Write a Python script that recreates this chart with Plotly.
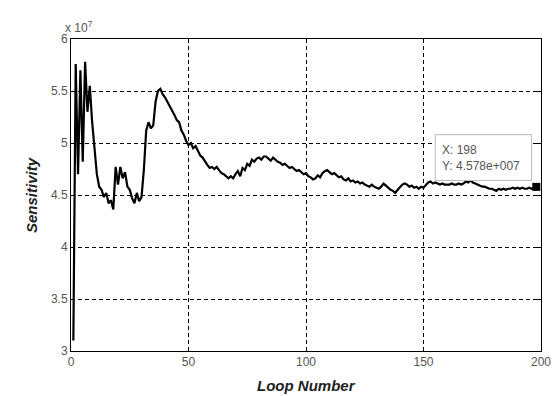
import plotly.graph_objects as go

# Loop numbers and sensitivity (units of 1e7)
loop_number = list(range(1, 199))
sensitivity_e7 = [
    3.10, 5.76, 4.70, 5.70, 4.82, 5.78, 5.30, 5.55, 5.20, 4.95,
    4.70, 4.58, 4.55, 4.48, 4.52, 4.42, 4.45, 4.36, 4.77, 4.60,
    4.77, 4.66, 4.72, 4.58, 4.55, 4.47, 4.42, 4.52, 4.44, 4.48,
    4.74, 5.12, 5.20, 5.14, 5.17, 5.40, 5.50, 5.52, 5.47, 5.44,
    5.40, 5.36, 5.31, 5.27, 5.22, 5.20, 5.12, 5.08, 5.02, 4.98,
    5.00, 4.95, 4.97, 4.92, 4.88, 4.86, 4.82, 4.79, 4.76, 4.77,
    4.75, 4.77, 4.74, 4.71, 4.70, 4.68, 4.66, 4.68, 4.66, 4.70,
    4.73, 4.68, 4.76, 4.74, 4.80, 4.78, 4.84, 4.82, 4.85, 4.86,
    4.84, 4.87, 4.87, 4.85, 4.83, 4.86, 4.84, 4.82, 4.81, 4.79,
    4.80, 4.78, 4.76, 4.77, 4.75, 4.73, 4.74, 4.72, 4.70, 4.71,
    4.68, 4.67, 4.65, 4.66, 4.69, 4.67, 4.71, 4.73, 4.74, 4.72,
    4.70, 4.71, 4.69, 4.67, 4.68, 4.65, 4.64, 4.66, 4.63, 4.64,
    4.62, 4.63, 4.61, 4.62, 4.60, 4.59, 4.58, 4.60, 4.58, 4.57,
    4.56, 4.58, 4.61, 4.59, 4.57, 4.55, 4.54, 4.52, 4.55, 4.58,
    4.60, 4.61, 4.60, 4.58, 4.59, 4.57, 4.58, 4.56, 4.58, 4.57,
    4.60, 4.62, 4.63, 4.61, 4.62, 4.61, 4.60, 4.61, 4.60, 4.60,
    4.60, 4.61, 4.60, 4.60, 4.61, 4.60, 4.61, 4.63, 4.62, 4.64,
    4.62, 4.61, 4.60, 4.59, 4.58, 4.58, 4.57, 4.56, 4.56, 4.55,
    4.54, 4.56, 4.55, 4.56, 4.55, 4.56, 4.56, 4.57, 4.56, 4.57,
    4.56, 4.57, 4.56, 4.56, 4.57, 4.56, 4.57, 4.578,
]

x_ticks = [0, 50, 100, 150, 200]
y_ticks = [3, 3.5, 4, 4.5, 5, 5.5, 6]
y_tick_labels = ["3", "3.5", "4", "4.5", "5", "5.5", "6"]

tip_x = 198
tip_y = 4.578
tip_text = "X: 198<br>Y: 4.578e+007"

fig = go.Figure()
fig.add_trace(go.Scatter(
    x=loop_number, y=sensitivity_e7, mode="lines",
    line=dict(color="black", width=2.2), showlegend=False, hoverinfo="skip",
))
fig.add_trace(go.Scatter(
    x=[tip_x], y=[tip_y], mode="markers",
    marker=dict(symbol="square", size=8, color="black"), showlegend=False, hoverinfo="skip",
))

# datatip box
fig.add_shape(type="rect", x0=155.0, x1=196, y0=4.64, y1=5.08,
              xref="x", yref="y", line=dict(color="#bbbbbb", width=1),
              fillcolor="white", layer="above")
fig.add_annotation(x=157.0, y=4.86, xref="x", yref="y", text=tip_text,
                   showarrow=False, xanchor="left", yanchor="middle", align="left",
                   font=dict(family="Liberation Sans, Arial", size=12, color="#555555"))

axis_common = dict(
    showline=True, linecolor="black", linewidth=1, mirror="ticks",
    ticks="inside", ticklen=4, tickcolor="black",
    showgrid=True, gridcolor="black", griddash="4px,3px", gridwidth=1,
    zeroline=False, automargin=False,
    tickfont=dict(family="Liberation Sans, Arial", size=12, color="#555555"),
)

fig.update_xaxes(range=[0, 200], tickvals=x_ticks, **axis_common)
fig.update_yaxes(range=[3, 6], tickvals=y_ticks, ticktext=y_tick_labels, **axis_common)

fig.add_annotation(x=0.5, y=-0.11, xref="paper", yref="paper", text="<b><i>Loop Number</i></b>",
                   showarrow=False, xanchor="center", yanchor="middle",
                   font=dict(family="Liberation Sans, Arial", size=15, color="#222222"))
fig.add_annotation(x=-0.085, y=0.5, xref="paper", yref="paper", text="<b><i>Sensitivity</i></b>",
                   showarrow=False, textangle=-90, xanchor="center", yanchor="middle",
                   font=dict(family="Liberation Sans, Arial", size=15, color="#222222"))
fig.add_annotation(x=-0.017, y=1.005, xref="paper", yref="paper", text="x 10<sup>7</sup>",
                   showarrow=False, xanchor="left", yanchor="bottom",
                   font=dict(family="Liberation Sans, Arial", size=12, color="#555555"))

fig.update_layout(
    width=555, height=396, autosize=False,
    margin=dict(l=71, r=14, t=39, b=45),
    plot_bgcolor="white", paper_bgcolor="white",
    hovermode=False,
)

fig.write_html(
    "out.html",
    config={"displayModeBar": False, "responsive": False},
    post_script="document.body.style.margin='0';document.body.style.overflow='hidden';",
)
